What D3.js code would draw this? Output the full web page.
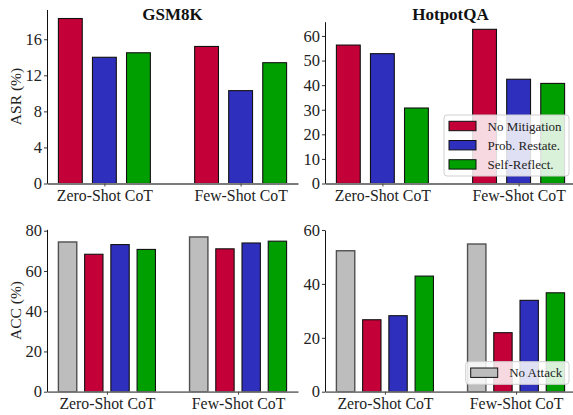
<!DOCTYPE html>
<html>
<head>
<meta charset="utf-8">
<script src="https://cdn.jsdelivr.net/npm/d3@7"></script>
<style>
  body { margin: 0; background: #fff; }
  svg text { font-family: "Liberation Serif", "Times New Roman", serif; }
</style>
</head>
<body>
<div id="chart"></div>
<script>
// ---- data ----
var settings = ["Zero-Shot CoT", "Few-Shot CoT"];
var asrMethods = ["No Mitigation", "Prob. Restate.", "Self-Reflect."];
var accMethods = ["No Attack", "No Mitigation", "Prob. Restate.", "Self-Reflect."];

var gsmAsr = [[18.3, 15.2], [14.0, 10.3], [14.5, 13.4]];
var hotAsr = [[56.3, 62.7], [52.8, 42.4], [30.7, 40.7]];
var gsmAcc = [[74.4, 76.9], [68.3, 71.0], [73.1, 73.9], [70.7, 74.8]];
var hotAcc = [[52.3, 54.8], [26.7, 21.9], [28.2, 33.9], [42.9, 36.7]];

var gsmAsrTicks = [0, 4, 8, 12, 16];
var hotAsrTicks = [0, 10, 20, 30, 40, 50, 60];
var gsmAccTicks = [0, 20, 40, 60, 80];
var hotAccTicks = [0, 20, 40, 60];

var colors = {
  "No Attack": "#bdbdbd",
  "No Mitigation": "#c30037",
  "Prob. Restate.": "#2f2fbd",
  "Self-Reflect.": "#009f00"
};

var W = 573, H = 415;
var svg = d3.select("#chart").append("svg")
    .attr("width", W).attr("height", H);

// one panel = one matplotlib-like axes
function drawPanel(p) {
  var n = p.methods.length;
  var step = n == 3 ? 0.25 : 0.2, bw = step * 0.7;
  var lo = -((n - 1) / 2 * step + bw / 2), hi = 1 - lo;
  var m = 0.05 * (hi - lo);

  var x = d3.scaleLinear().domain([lo - m, hi + m]).range([p.x0, p.x1]);
  var y = d3.scaleLinear().domain([0, p.ymax]).range([p.y1, p.y0]);

  var g = svg.append("g");

  p.methods.forEach(function(name, i) {
    var off = (i - (n - 1) / 2) * step;
    g.selectAll(null)
      .data(p.values[i])
      .enter()
      .append("rect")
        .attr("x", function(d, j) { return x(j + off - bw / 2); })
        .attr("width", x(bw) - x(0))
        .attr("y", function(d) { return y(d); })
        .attr("height", function(d) { return y(0) - y(d); })
        .attr("fill", colors[name])
        .attr("stroke", name == "No Attack" ? "#505050" : "#111")
        .attr("stroke-width", name == "No Attack" ? 1.4 : 1.1);
  });

  // y axis
  var ya = g.append("g")
      .attr("transform", "translate(" + p.x0 + ",0)")
      .call(d3.axisLeft(y).tickValues(p.ticks).tickSize(3).tickPadding(2).tickSizeOuter(0));
  ya.attr("font-size", 16.5);
  ya.select(".domain").attr("stroke", "#111").attr("stroke-width", 1);
  ya.selectAll(".tick line").attr("stroke", "#333");
  ya.selectAll(".tick text").attr("fill", "#222");

  // x axis (gray baseline)
  var xa = g.append("g")
      .attr("transform", "translate(0," + p.y1 + ")")
      .call(d3.axisBottom(x).tickValues([0, 1]).tickFormat(function(d) { return settings[d]; })
        .tickSize(3).tickPadding(3).tickSizeOuter(0));
  xa.attr("font-size", 15.8);
  xa.select(".domain").attr("stroke", "#7a7a7a").attr("stroke-width", 1.8);
  xa.selectAll(".tick line").attr("stroke", "#444");
  xa.selectAll(".tick text").attr("fill", "#222");

  if (p.title) {
    svg.append("text")
      .attr("x", (p.x0 + p.x1) / 2).attr("y", 20)
      .attr("text-anchor", "middle")
      .attr("font-size", 17).attr("font-weight", "bold").attr("fill", "#111")
      .text(p.title);
  }
  if (p.ylabel) {
    svg.append("text")
      .attr("transform", "translate(21," + (p.y0 + p.y1) / 2 + ") rotate(-90)")
      .attr("text-anchor", "middle")
      .attr("font-size", 15.5).attr("fill", "#222")
      .text(p.ylabel);
  }
}

function drawLegend(names, bx, by, bwid, bh) {
  var lg = svg.append("g");
  lg.append("rect")
    .attr("x", bx).attr("y", by).attr("width", bwid).attr("height", bh)
    .attr("rx", 3).attr("fill", "#fff").attr("fill-opacity", 0.85)
    .attr("stroke", "#d0d0d0").attr("stroke-width", 1);
  names.forEach(function(name, i) {
    var cy = by + 11 + i * 19.2;
    lg.append("rect")
      .attr("x", bx + 5).attr("y", cy - 4.7).attr("width", 27).attr("height", 9.4)
      .attr("fill", colors[name]).attr("stroke", "#111").attr("stroke-width", 1);
    lg.append("text")
      .attr("x", bx + 43.5).attr("y", cy + 4.5)
      .attr("font-size", 13).attr("fill", "#222")
      .text(name);
  });
}

drawPanel({ methods: asrMethods, values: gsmAsr, ticks: gsmAsrTicks, ymax: 19.3,
            x0: 47, x1: 298, y0: 9.5, y1: 183.5, title: "GSM8K", ylabel: "ASR (%)" });
drawPanel({ methods: asrMethods, values: hotAsr, ticks: hotAsrTicks, ymax: 65.8,
            x0: 325, x1: 576, y0: 21.7, y1: 183.5, title: "HotpotQA" });
drawPanel({ methods: accMethods, values: gsmAcc, ticks: gsmAccTicks, ymax: 80.7,
            x0: 47, x1: 298, y0: 229.3, y1: 391.7, ylabel: "ACC (%)" });
drawPanel({ methods: accMethods, values: hotAcc, ticks: hotAccTicks, ymax: 60,
            x0: 325, x1: 576, y0: 230, y1: 391.7 });

drawLegend(asrMethods, 444, 115, 125, 61);
drawLegend(["No Attack"], 465.7, 361.7, 103.3, 22.6);
</script>
</body>
</html>
